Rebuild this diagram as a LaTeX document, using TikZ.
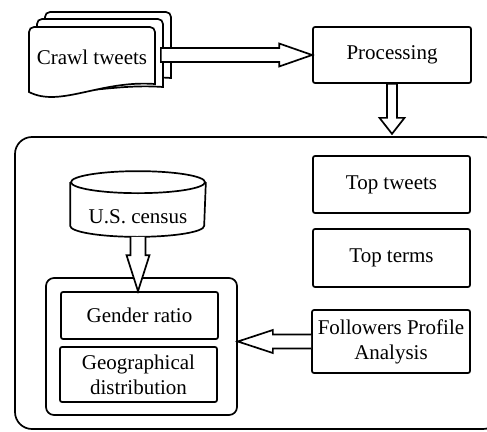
\documentclass[tikz,border=0pt]{standalone}
\usepackage{fontspec}
\setmainfont{Liberation Serif}
\newfontfamily\diagfont{Liberation Serif}
\usetikzlibrary{calc}
\newcommand\docpage[5]{%
  \draw[fill=white] (#1,#5) -- (#1,#2+5) arc[start angle=180, end angle=270, radius=5]
    -- (#3-5,#2) arc[start angle=270, end angle=360, radius=5]
    -- (#3,#4) .. controls (#3-55,#4-4) and (#1+31,#5+16) .. (#1,#5) -- cycle;}
\begin{document}
\begin{tikzpicture}[x=1pt,y=-1pt,
  line width=1.7pt,
  font=\diagfont\fontsize{21}{25}\selectfont,
  box/.style={draw, rounded corners=2pt, inner sep=0pt, align=center},
  plain/.style={inner sep=0pt, align=center},
  barrow/.style={draw, fill=white, line join=miter}]
\useasboundingbox (0,0) rectangle (487,431);

% outer container (runs past the right edge)
\begin{scope}
  \clip (0,0) rectangle (487,431);
  \node[draw, rounded corners=17pt, minimum width=485, minimum height=292] (outer) at (257.5,283) {};
\end{scope}

% stacked documents
\docpage{45}{12}{171}{78}{76}
\docpage{37}{19}{163}{87}{84}
\docpage{29}{27}{155}{84}{92}
\node[plain, minimum width=126] (crawl) at (92,57) {Crawl tweets};

% boxes
\node[box, minimum width=158, minimum height=56] (proc) at (392,55) {Processing};
\node[box, minimum width=157, minimum height=57] (toptw) at (391.5,184.5) {Top tweets};
\node[box, minimum width=157, minimum height=58] (topte) at (391.5,258) {Top terms};
\node[box, minimum width=158, minimum height=63] (foll) at (391,341.5) {Followers Profile\\Analysis};

\node[draw, rounded corners=8pt, minimum width=191, minimum height=137] (inner) at (141.5,346.5) {};
\node[box, minimum width=157, minimum height=47] (gender) at (139.5,315.5) {Gender ratio};
\node[box, minimum width=157, minimum height=55] (geo) at (138.5,374.5) {Geographical\\distribution};

% cylinder
\node[minimum width=134, minimum height=64, inner sep=0pt] (census) at (138,204) {};
\draw ($(census.north west)+(0,11)$) -- ($(census.south west)+(0,-11)$)
  arc[start angle=180, end angle=0, x radius=67, y radius=11]
  -- ($(census.north east)+(0,11)$);
\draw ($(census.north)+(0,11)$) ellipse[x radius=67, y radius=11];
\node[plain] (censustext) at (138,217) {U.S. census};

% arrow crawl -> processing
\coordinate (a1s) at ($(proc.west -| crawl.east)+(5,0)$);
\coordinate (a1t) at (proc.west);
\draw[barrow] ($(a1s)+(0,-7)$) -- ($(a1t)+(-33,-7)$) -- ($(a1t)+(-33,-11.5)$) -- (a1t)
  -- ($(a1t)+(-33,11.5)$) -- ($(a1t)+(-33,7)$) -- ($(a1s)+(0,7)$) -- cycle;

% arrow processing -> outer
\coordinate (a2t) at ($(proc.south)+(0,50)$);
\draw[barrow] ($(proc.south)+(-5,0)$) -- ($(a2t)+(-5,-16)$) -- ($(a2t)+(-12.5,-16)$) -- (a2t)
  -- ($(a2t)+(12.5,-16)$) -- ($(a2t)+(5,-16)$) -- ($(proc.south)+(5,0)$) -- cycle;

% arrow census -> gender
\coordinate (a3t) at (gender.north -| census.south);
\draw[barrow] ($(census.south)+(-7.5,0)$) -- ($(a3t)+(-7.5,-36)$) -- ($(a3t)+(-11.5,-36)$) -- (a3t)
  -- ($(a3t)+(11.5,-36)$) -- ($(a3t)+(7.5,-36)$) -- ($(census.south)+(7.5,0)$);

% arrow followers -> inner
\coordinate (a4t) at (foll.west -| inner.east);
\draw[barrow] ($(foll.west)+(0,-7)$) -- ($(a4t)+(35,-7)$) -- ($(a4t)+(35,-11.5)$) -- (a4t)
  -- ($(a4t)+(35,11.5)$) -- ($(a4t)+(35,7)$) -- ($(foll.west)+(0,7)$);
\end{tikzpicture}
\end{document}
